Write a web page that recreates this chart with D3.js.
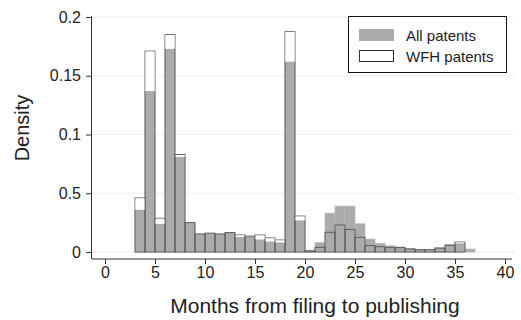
<!DOCTYPE html>
<html>
<head>
<meta charset="utf-8">
<script src="https://cdn.jsdelivr.net/npm/d3@7"></script>
<style>
  body { margin: 0; background: #fff; }
  text { font-family: "Liberation Sans", Arial, sans-serif; fill: #222; }
</style>
</head>
<body>
<svg id="chart" width="521" height="320"></svg>
<script>
// bin start month (each bin is one month wide)
const binStarts = d3.range(3, 37);
const allPatents = [
    0.036, 0.137, 0.024, 0.173, 0.081, 0.025, 0.0153, 0.016, 0.0153, 0.0165,
    0.013, 0.013, 0.0108, 0.009, 0.0082, 0.162, 0.027, 0.001, 0.008, 0.033,
    0.039, 0.039, 0.024, 0.011, 0.0074, 0.0053, 0.0043, 0.003, 0.002, 0.002,
    0.0037, 0.0065, 0.0074, 0.0025,
];
const wfhPatents = [
    0.046, 0.171, 0.0287, 0.185, 0.083, 0.025, 0.0153, 0.016, 0.0153, 0.0165,
    0.0145, 0.0135, 0.0145, 0.012, 0.0102, 0.1875, 0.0306, 0.001, 0.004, 0.0168,
    0.023, 0.0193, 0.0125, 0.0054, 0.0045, 0.0037, 0.0037, 0.0026, 0.002, 0.002,
    0.0033, 0.0057, 0.0085, null,
];
const yTicks = [0, 0.05, 0.1, 0.15, 0.2];
const yTickLabels = ['0', '0.5', '0.1', '0.15', '0.2'];
const xTicks = [0, 5, 10, 15, 20, 25, 30, 35, 40];
const legendLabels = ['All patents', 'WFH patents'];

const svg = d3.select('#chart');
const x = d3.scaleLinear().domain([0, 40]).range([105, 505]);
const y = d3.scaleLinear().domain([0, 0.2]).range([252, 17]);

// grid
svg.append('g')
    .selectAll('line')
    .data(yTicks)
    .join('line')
    .attr('x1', 93)
    .attr('x2', 514)
    .attr('y1', (d) => y(d))
    .attr('y2', (d) => y(d))
    .attr('stroke', '#eeeeee')
    .attr('stroke-width', 1.2);

// all patents
svg.append('g')
    .selectAll('rect')
    .data(allPatents)
    .join('rect')
    .attr('x', (d, i) => x(binStarts[i]))
    .attr('width', x(1) - x(0))
    .attr('y', (d) => y(d))
    .attr('height', (d) => y(0) - y(d))
    .attr('fill', '#ababab')
    .attr('stroke', '#b9b9b9')
    .attr('stroke-width', 0.8);

// wfh patents
svg.append('g')
    .selectAll('rect')
    .data(wfhPatents.map((v, i) => ({ v, s: binStarts[i] })).filter((d) => d.v != null))
    .join('rect')
    .attr('x', (d) => x(d.s))
    .attr('width', x(1) - x(0))
    .attr('y', (d) => y(d.v))
    .attr('height', (d) => y(0) - y(d.v))
    .attr('fill', 'none')
    .attr('stroke', '#555')
    .attr('stroke-width', 0.9);

// white tops where wfh exceeds all
svg.append('g')
    .selectAll('rect')
    .data(wfhPatents.map((v, i) => ({ v, a: allPatents[i], s: binStarts[i] }))
        .filter((d) => d.v != null && d.v > d.a + 0.0005))
    .join('rect')
    .attr('x', (d) => x(d.s) + 0.5)
    .attr('width', x(1) - x(0) - 1)
    .attr('y', (d) => y(d.v) + 0.5)
    .attr('height', (d) => y(d.a) - y(d.v) - 0.5)
    .attr('fill', '#fff');

// y axis
const yAxis = svg.append('g')
    .attr('transform', 'translate(92,0)')
    .call(d3.axisLeft(y).tickValues(yTicks).tickSize(6).tickPadding(5)
        .tickFormat((d, i) => yTickLabels[i]));
yAxis.select('.domain').attr('d', `M-0.5,${y(0.2) - 1}V259`).attr('stroke', '#333');
yAxis.selectAll('line').attr('stroke', '#333');
yAxis.selectAll('text').attr('font-size', 16).attr('fill', '#222')
    .attr('font-family', '"Liberation Sans", Arial, sans-serif');

// x axis
const xAxis = svg.append('g')
    .attr('transform', 'translate(0,259)')
    .call(d3.axisBottom(x).tickValues(xTicks).tickSize(5).tickPadding(3));
xAxis.select('.domain').attr('d', 'M92,0H512').attr('stroke', '#333');
xAxis.selectAll('line').attr('stroke', '#333');
xAxis.selectAll('text').attr('font-size', 16).attr('fill', '#222')
    .attr('font-family', '"Liberation Sans", Arial, sans-serif');

// axis titles
svg.append('text')
    .attr('x', 315)
    .attr('y', 313)
    .attr('text-anchor', 'middle')
    .attr('font-size', 21)
    .text('Months from filing to publishing');

svg.append('text')
    .attr('transform', 'translate(29,128) rotate(-90)')
    .attr('text-anchor', 'middle')
    .attr('font-size', 20)
    .text('Density');

// legend
const legend = svg.append('g');
legend.append('rect')
    .attr('x', 348.5).attr('y', 16.5)
    .attr('width', 158).attr('height', 56)
    .attr('fill', '#fff').attr('stroke', '#111');
legend.append('rect')
    .attr('x', 359).attr('y', 29).attr('width', 35).attr('height', 12)
    .attr('fill', '#ababab');
legend.append('rect')
    .attr('x', 359.5).attr('y', 50.5).attr('width', 34).attr('height', 11)
    .attr('fill', '#fff').attr('stroke', '#333');
legend.selectAll('text.lab')
    .data(legendLabels)
    .join('text')
    .attr('class', 'lab')
    .attr('x', 406)
    .attr('y', (d, i) => 41 + i * 21)
    .attr('font-size', 15)
    .text((d) => d);
</script>
</body>
</html>
